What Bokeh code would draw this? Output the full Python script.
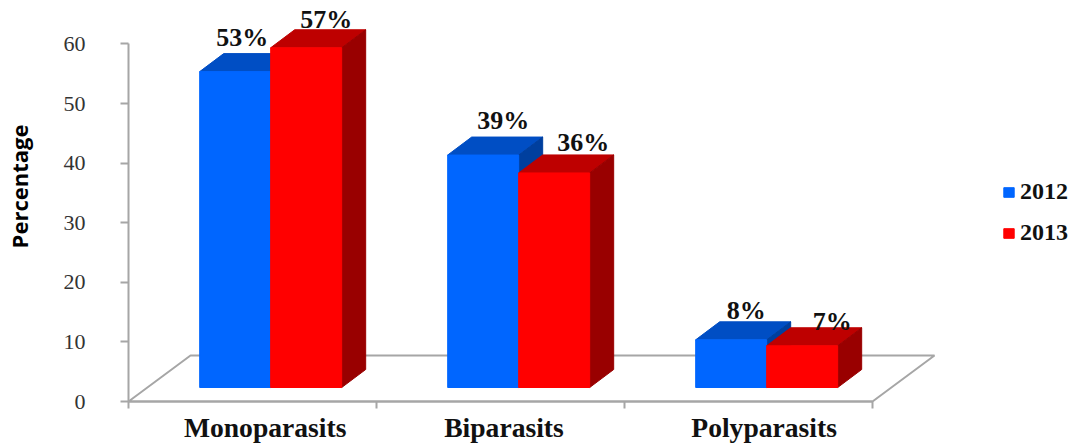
from math import pi
from bokeh.plotting import figure
from bokeh.models import (Range1d, FixedTicker, ColumnDataSource, Legend, LegendItem)
from bokeh.core.properties import value
from bokeh.embed import file_html
from bokeh.resources import INLINE

# ---- data ----
categories = ["Monoparasits", "Biparasits", "Polyparasits"]
years = ["2012", "2013"]
values_2012 = [53, 39, 8]
values_2013 = [57, 36, 7]
y_ticks = [0, 10, 20, 30, 40, 50, 60]
y_title = "Percentage"

# ---- styling / layout ----
W, H = 1072, 444
LEFT, BOTTOM = 128, 43  # room kept inside the frame for the axes, which sit at x=0 and y=0
PX_X = 248.0            # pixels per category
PX_Y = 5.96             # pixels per percentage point
FRONT_BASE = 14 / PX_Y
BAR_W = 71 / PX_X
BAR_START = 0.287
DX, DY = 24 / PX_X, 18 / PX_Y
FLOOR_DX, FLOOR_DY = 62 / PX_X, 46 / PX_Y
LABEL_SHIFT = [0.051, 0.014, 0.063]
AXIS = "#a6a6a6"
TXT = "#111111"
SERIF = "Liberation Serif"
lab_dx_2012 = [7, 20, 15]
lab_dy_2012 = [16, 17, 11]
lab_dx_2013 = [20, 29, 30]
lab_dy_2013 = [10, 12, 6]
TITLE_X, TITLE_Y = (18 - LEFT) / PX_X, (H - BOTTOM - 186) / PX_Y

p = figure(width=W, height=H, output_backend="svg", toolbar_location=None,
           x_range=Range1d(-LEFT / PX_X, (W - LEFT) / PX_X),
           y_range=Range1d(-BOTTOM / PX_Y, (H - BOTTOM) / PX_Y),
           min_border_left=0, min_border_bottom=0,
           min_border_top=0, min_border_right=0,
           background_fill_color="white", border_fill_color="white")
p.outline_line_color = None
p.grid.visible = False

# floor of the 3D box
n = len(categories)
p.patch([0, n, n + FLOOR_DX, FLOOR_DX], [0, 0, FLOOR_DY, FLOOR_DY],
        fill_color="white", line_color=AXIS, line_width=2)


def series(vals, offset, front, top, side):
    xl = [i + BAR_START + offset * BAR_W for i in range(n)]
    xr = [x + BAR_W for x in xl]
    yb = [FRONT_BASE] * n
    yt = [FRONT_BASE + v for v in vals]
    p.patches([[a, b, b + DX, a + DX] for a, b in zip(xl, xr)],
              [[t, t, t + DY, t + DY] for t in yt],
              fill_color=top, line_color=top)
    p.patches([[b, b + DX, b + DX, b] for b in xr],
              [[bb, bb + DY, t + DY, t] for bb, t in zip(yb, yt)],
              fill_color=side, line_color=side)
    return p.vbar(x=[(a + b) / 2 for a, b in zip(xl, xr)], width=BAR_W, bottom=yb, top=yt,
                  fill_color=front, line_color=front)


def labels(vals, offset, dx, dy):
    xc = [i + BAR_START + (offset + 0.5) * BAR_W for i in range(n)]
    yt = [FRONT_BASE + v + DY for v in vals]
    src = ColumnDataSource(dict(x=xc, y=yt, t=[f"{v}%" for v in vals], dx=dx, dy=[-d for d in dy]))
    p.text("x", "y", text="t", x_offset="dx", y_offset="dy", source=src,
           text_font=value(SERIF), text_font_style="bold", text_font_size="26px",
           text_color=TXT, text_align="center", text_baseline="middle")


r_2012 = series(values_2012, 0, "#0066ff", "#004ec4", "#003f9e")
r_2013 = series(values_2013, 1, "#ff0000", "#be0000", "#990000")
labels(values_2012, 0, lab_dx_2012, lab_dy_2012)
labels(values_2013, 1, lab_dx_2013, lab_dy_2013)

# axes
ya = p.yaxis[0]
ya.fixed_location = 0
ya.ticker = FixedTicker(ticks=y_ticks)
ya.bounds = (0, 60)
ya.major_label_text_font = SERIF
ya.major_label_text_font_size = "22px"
ya.major_label_text_color = "#333333"
ya.major_label_standoff = 35
ya.axis_line_color = AXIS
ya.axis_line_width = 2
ya.major_tick_line_color = AXIS
ya.major_tick_line_width = 2
ya.major_tick_out = 8
ya.major_tick_in = 0
ya.minor_tick_out = 0
ya.minor_tick_in = 0

# y title
p.text([TITLE_X], [TITLE_Y], text=[y_title], angle=pi / 2,
       text_font=value("Open Sans"), text_font_style="bold", text_font_size="22px",
       text_color="#000000", text_align="center", text_baseline="middle")

xa = p.xaxis[0]
xa.fixed_location = 0
label_pos = [i + 0.5 + s for i, s in enumerate(LABEL_SHIFT)]
xa.ticker = FixedTicker(ticks=label_pos, minor_ticks=list(range(n + 1)))
xa.major_label_overrides = {x: c for x, c in zip(label_pos, categories)}
xa.bounds = (0, n)
xa.axis_line_color = AXIS
xa.axis_line_width = 2
xa.major_tick_out = 0
xa.major_tick_in = 0
xa.minor_tick_out = 7
xa.minor_tick_in = 0
xa.minor_tick_line_color = AXIS
xa.minor_tick_line_width = 2
xa.major_label_text_font = SERIF
xa.major_label_text_font_style = "bold"
xa.major_label_text_font_size = "27.6px"
xa.major_label_text_color = TXT
xa.major_label_standoff = 3

legend = Legend(items=[LegendItem(label=years[0], renderers=[r_2012]),
                       LegendItem(label=years[1], renderers=[r_2013])],
                location=(874 + LEFT, 155 + BOTTOM), orientation="vertical",
                glyph_width=13, glyph_height=12, label_standoff=5, spacing=14,
                padding=0, margin=0, border_line_color=None, background_fill_alpha=0,
                label_text_font=SERIF, label_text_font_style="bold",
                label_text_font_size="24px", label_text_color=TXT)
p.add_layout(legend, "center")

open("out.html", "w").write(file_html(p, INLINE))
